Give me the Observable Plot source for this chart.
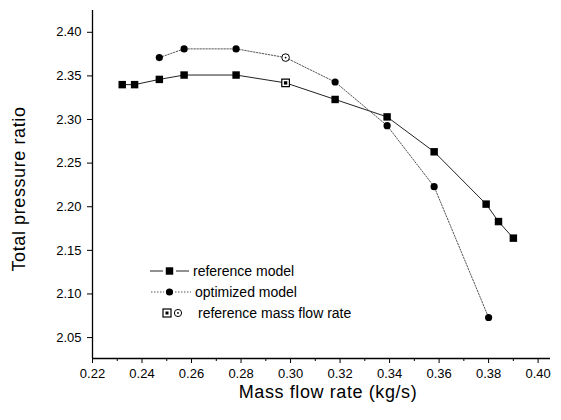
<!DOCTYPE html>
<html>
<head>
<meta charset="utf-8">
<script src="https://cdn.jsdelivr.net/npm/d3@7"></script>
<script src="https://cdn.jsdelivr.net/npm/@observablehq/plot@0.6"></script>
<style>
  html, body { margin: 0; padding: 0; background: #fff; }
  #wrap { position: relative; width: 561px; height: 420px; overflow: hidden; }
</style>
</head>
<body>
<div id="wrap"></div>
<script>
// ---- data ----
const refFlow = [0.232, 0.237, 0.247, 0.257, 0.278, 0.298, 0.318, 0.339, 0.358, 0.379, 0.384, 0.390];
const refRatio = [2.340, 2.340, 2.346, 2.351, 2.351, 2.342, 2.323, 2.303, 2.263, 2.203, 2.183, 2.164];
const optFlow = [0.247, 0.257, 0.278, 0.298, 0.318, 0.339, 0.358, 0.380];
const optRatio = [2.371, 2.381, 2.381, 2.371, 2.343, 2.293, 2.223, 2.073];
const designFlow = 0.298; // reference mass flow rate
const xTicks = [0.22, 0.24, 0.26, 0.28, 0.30, 0.32, 0.34, 0.36, 0.38, 0.40];
const xMinorTicks = [0.23, 0.25, 0.27, 0.29, 0.31, 0.33, 0.35, 0.37, 0.39];
const yTicks = [2.05, 2.10, 2.15, 2.20, 2.25, 2.30, 2.35, 2.40];
const xTitle = "Mass flow rate (kg/s)";
const yTitle = "Total pressure ratio";
const legendLabels = ["reference model", "optimized model", "reference mass flow rate"];

const refData = refFlow.map((x, i) => ({x, y: refRatio[i]}));
const optData = optFlow.map((x, i) => ({x, y: optRatio[i]}));
const isDesign = d => Math.abs(d.x - designFlow) < 1e-9;

const xDomain = [0.22, 0.405];
const yDomain = [2.026, 2.425];

const chart = Plot.plot({
  width: 561,
  height: 420,
  marginLeft: 92,
  marginRight: 11,
  marginTop: 10,
  marginBottom: 62,
  x: {domain: xDomain},
  y: {domain: yDomain},
  style: {fontFamily: "'Liberation Sans', Arial, sans-serif", fontSize: "13px", color: "#000", background: "#fff"},
  marks: [
    Plot.axisX(xTicks, {tickSize: 5, tickPadding: 5, tickFormat: d => d.toFixed(2), label: null, fontSize: 13}),
    Plot.axisX(xMinorTicks, {tickSize: 3, tickFormat: () => "", label: null}),
    Plot.axisY(yTicks, {tickSize: 5, tickPadding: 6, tickFormat: d => d.toFixed(2), label: null, fontSize: 13}),
    Plot.ruleX([xDomain[0]], {stroke: "#000", strokeWidth: 1.3}),
    Plot.ruleY([yDomain[0]], {stroke: "#000", strokeWidth: 1.3}),
    Plot.line(refData, {x: "x", y: "y", stroke: "#222", strokeWidth: 1}),
    Plot.line(optData, {x: "x", y: "y", stroke: "#555", strokeWidth: 1, strokeDasharray: "1.5,1.5"}),
    Plot.dot(refData.filter(d => !isDesign(d)), {x: "x", y: "y", symbol: "square", r: 4.2, fill: "#000", stroke: "none"}),
    Plot.dot(optData.filter(d => !isDesign(d)), {x: "x", y: "y", symbol: "circle", r: 3.6, fill: "#000", stroke: "none"}),
    Plot.dot(refData.filter(isDesign), {x: "x", y: "y", symbol: "square", r: 4.3, fill: "#fff", stroke: "#000", strokeWidth: 1.2}),
    Plot.dot(refData.filter(isDesign), {x: "x", y: "y", symbol: "square", r: 1.9, fill: "#000", stroke: "none"}),
    Plot.dot(optData.filter(isDesign), {x: "x", y: "y", symbol: "circle", r: 3.8, fill: "#fff", stroke: "#000", strokeWidth: 1}),
    Plot.dot(optData.filter(isDesign), {x: "x", y: "y", symbol: "circle", r: 0.9, fill: "#000", stroke: "none"})
  ]
});

document.getElementById("wrap").appendChild(chart);

// axis titles and legend, added to the same svg as real text
const svg = d3.select(chart);
const font = "'Liberation Sans', Arial, sans-serif";
svg.append("text")
  .attr("x", 328).attr("y", 398)
  .attr("text-anchor", "middle")
  .attr("font-family", font).attr("font-size", 18).attr("letter-spacing", "0.6px")
  .attr("fill", "#000")
  .text(xTitle);
svg.append("text")
  .attr("transform", "translate(25,189) rotate(-90)")
  .attr("text-anchor", "middle")
  .attr("font-family", font).attr("font-size", 18).attr("letter-spacing", "0.6px")
  .attr("fill", "#000")
  .text(yTitle);

const lg = svg.append("g").attr("font-family", font).attr("font-size", 14).attr("fill", "#000").attr("text-anchor", "start");
const sym = d3.symbol();
// row 1
lg.append("line").attr("x1", 150).attr("x2", 163).attr("y1", 271).attr("y2", 271).attr("stroke", "#222");
lg.append("line").attr("x1", 176).attr("x2", 189).attr("y1", 271).attr("y2", 271).attr("stroke", "#222");
lg.append("path").attr("d", sym.type(d3.symbolSquare).size(4.2 * 4.2 * Math.PI)()).attr("transform", "translate(169.5,271)");
lg.append("text").attr("x", 193).attr("y", 271).attr("dy", "0.35em").attr("text-anchor", "start").text(legendLabels[0]);
// row 2
lg.append("line").attr("x1", 151).attr("x2", 164).attr("y1", 292).attr("y2", 292).attr("stroke", "#555").attr("stroke-dasharray", "1.5,1.5");
lg.append("line").attr("x1", 175).attr("x2", 191).attr("y1", 292).attr("y2", 292).attr("stroke", "#555").attr("stroke-dasharray", "1.5,1.5");
lg.append("circle").attr("cx", 169.5).attr("cy", 292).attr("r", 3.6);
lg.append("text").attr("x", 195).attr("y", 292).attr("dy", "0.35em").attr("text-anchor", "start").text(legendLabels[1]);
// row 3
lg.append("rect").attr("x", 163).attr("y", 309).attr("width", 8).attr("height", 8).attr("fill", "#fff").attr("stroke", "#000").attr("stroke-width", 1.2);
lg.append("rect").attr("x", 165.5).attr("y", 311.5).attr("width", 3).attr("height", 3);
lg.append("circle").attr("cx", 178).attr("cy", 313).attr("r", 3.6).attr("fill", "#fff").attr("stroke", "#000");
lg.append("circle").attr("cx", 178).attr("cy", 313).attr("r", 0.9);
lg.append("text").attr("x", 198).attr("y", 313).attr("dy", "0.35em").attr("text-anchor", "start").text(legendLabels[2]);
</script>
</body>
</html>
